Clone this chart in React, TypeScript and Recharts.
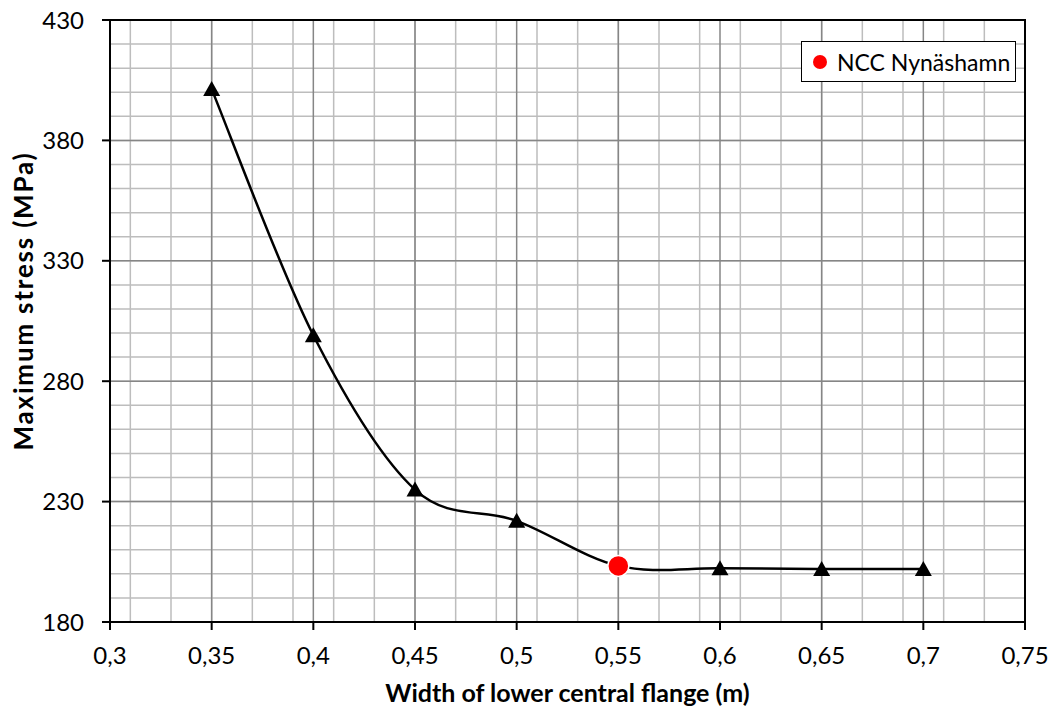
import {
    ComposedChart,
    Line,
    XAxis,
    YAxis,
    CartesianGrid,
    Label,
    ReferenceArea,
} from "recharts";

// flange width (m) vs maximum stress (MPa)
const widths = [0.35, 0.4, 0.45, 0.5, 0.55, 0.6, 0.65, 0.7];
const stresses = [401.3, 299.1, 235, 222, 203.3, 202.3, 202, 202];

// highlighted design point
const nccWidths = [0.55];
const nccStresses = [203.3];
const nccName = "NCC Nynäshamn";

const xTicks = [0.3, 0.35, 0.4, 0.45, 0.5, 0.55, 0.6, 0.65, 0.7, 0.75];
const yTicks = [180, 230, 280, 330, 380, 430];

const xMinorTicks = Array.from({ length: 46 }, (_, i) => +(0.3 + i * 0.01).toFixed(2));
const yMinorTicks = Array.from({ length: 26 }, (_, i) => 180 + i * 10);

const FONT = "Lato, 'Open Sans', sans-serif";

const lineData = widths.map((w, i) => ({ x: w, y: stresses[i] }));
const nccData = nccWidths.map((w, i) => ({ x: w, y: nccStresses[i] }));

// excel-like smoothed line (catmull-rom through every point)
const excelSmooth = (context: any) => {
    let pts: number[][] = [];
    return {
        areaStart() {},
        areaEnd() {},
        lineStart() {
            pts = [];
        },
        lineEnd() {
            const n = pts.length;
            if (!n) return;
            context.moveTo(pts[0][0], pts[0][1]);
            for (let i = 0; i < n - 1; i++) {
                const p0 = pts[i - 1] || pts[i];
                const p1 = pts[i];
                const p2 = pts[i + 1];
                const p3 = pts[i + 2] || p2;
                context.bezierCurveTo(
                    p1[0] + (p2[0] - p0[0]) / 6,
                    p1[1] + (p2[1] - p0[1]) / 6,
                    p2[0] - (p3[0] - p1[0]) / 6,
                    p2[1] - (p3[1] - p1[1]) / 6,
                    p2[0],
                    p2[1],
                );
            }
        },
        point(x: number, y: number) {
            pts.push([+x, +y]);
        },
    };
};

function Triangle(props: any) {
    const { cx, cy } = props;
    if (cx == null || cy == null) return null;
    return (
        <polygon
            key={`tri-${cx}`}
            points={`${cx},${cy - 8} ${cx + 8.5},${cy + 7} ${cx - 8.5},${cy + 7}`}
            fill="#000"
        />
    );
}

function RedDot(props: any) {
    const { cx, cy } = props;
    if (cx == null || cy == null) return null;
    return (
        <circle
            key={`ncc-${cx}`}
            cx={cx}
            cy={cy}
            r={10.5}
            fill="#ff0000"
            stroke="#fff"
            strokeWidth={1.5}
        />
    );
}

function LegendBox() {
    return (
        <div
            style={{
                position: "absolute",
                left: 801,
                top: 41,
                boxSizing: "border-box",
                width: 215,
                height: 41,
                border: "1.5px solid #000",
                background: "#fff",
                display: "flex",
                alignItems: "center",
                fontFamily: FONT,
                fontSize: 23,
                color: "#000",
                whiteSpace: "nowrap",
            }}
        >
            <span
                style={{
                    display: "inline-block",
                    flex: "0 0 14px",
                    width: 14,
                    height: 14,
                    borderRadius: "50%",
                    background: "#ff0000",
                    marginLeft: 11,
                    marginRight: 10,
                }}
            />
            <span>{nccName}</span>
        </div>
    );
}

const fmt = (v: number) => String(v).replace(".", ",");

export default function App() {
    return (
        <div style={{ position: "absolute", left: 0, top: 0, width: 1056, height: 713, background: "#fff" }}>
            <ComposedChart
                width={1056}
                height={713}
                margin={{ top: 20, right: 31, left: 0, bottom: 0 }}
            >
                <XAxis
                    xAxisId="minor"
                    type="number"
                    dataKey="x"
                    domain={[0.3, 0.75]}
                    ticks={xMinorTicks}
                    allowDataOverflow
                    hide
                />
                <YAxis
                    yAxisId="minor"
                    type="number"
                    domain={[180, 430]}
                    ticks={yMinorTicks}
                    allowDataOverflow
                    hide
                />
                <CartesianGrid
                    xAxisId="minor"
                    yAxisId="minor"
                    stroke="#bdbdbd"
                    strokeWidth={1.5}
                />
                <CartesianGrid stroke="#868686" strokeWidth={1.5} />
                <XAxis
                    type="number"
                    dataKey="x"
                    domain={[0.3, 0.75]}
                    ticks={xTicks}
                    interval={0}
                    allowDataOverflow
                    height={91}
                    tickFormatter={fmt}
                    tickSize={8}
                    tickMargin={17}
                    axisLine={{ stroke: "#000", strokeWidth: 2 }}
                    tickLine={{ stroke: "#000", strokeWidth: 2 }}
                    tick={{ fill: "#000", fontSize: 24, fontFamily: FONT }}
                >
                    <Label
                        value="Width of lower central flange (m)"
                        position="center"
                        dy={26}
                        style={{ fontFamily: FONT, fontSize: 25, fontWeight: 700, fill: "#000" }}
                    />
                </XAxis>
                <YAxis
                    type="number"
                    domain={[180, 430]}
                    ticks={yTicks}
                    interval={0}
                    allowDataOverflow
                    width={110}
                    tickSize={8}
                    tickMargin={18}
                    axisLine={{ stroke: "#000", strokeWidth: 2 }}
                    tickLine={{ stroke: "#000", strokeWidth: 2 }}
                    tick={{ fill: "#000", fontSize: 24, fontFamily: FONT }}
                >
                    <Label
                        value="Maximum stress (MPa)"
                        angle={-90}
                        position="center"
                        dx={-31}
                        dy={-20}
                        style={{
                            fontFamily: FONT,
                            fontSize: 26,
                            fontWeight: 700,
                            letterSpacing: 1.8,
                            fill: "#000",
                        }}
                    />
                </YAxis>
                <ReferenceArea
                    x1={0.3}
                    x2={0.75}
                    y1={180}
                    y2={430}
                    fill="none"
                    fillOpacity={0}
                    stroke="#000"
                    strokeWidth={2}
                />
                <Line
                    data={lineData}
                    dataKey="y"
                    type={excelSmooth as any}
                    stroke="#000"
                    strokeWidth={2.5}
                    dot={<Triangle />}
                    activeDot={false}
                    isAnimationActive={false}
                />
                <Line
                    data={nccData}
                    dataKey="y"
                    name={nccName}
                    stroke="none"
                    dot={<RedDot />}
                    activeDot={false}
                    isAnimationActive={false}
                />
            </ComposedChart>
            <LegendBox />
        </div>
    );
}
